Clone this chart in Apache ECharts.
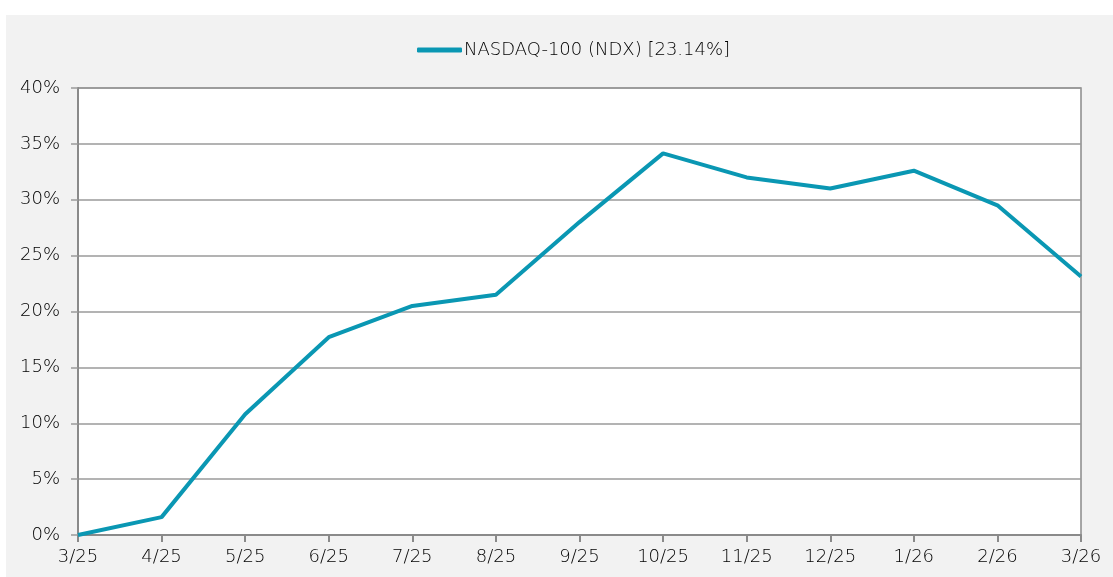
<!DOCTYPE html>
<html>
<head>
<meta charset="utf-8">
<script src="https://cdn.jsdelivr.net/npm/echarts@6/dist/echarts.min.js"></script>
<style>
html,body{margin:0;padding:0;background:#fff;}
#box{position:absolute;left:6px;top:15px;width:1107px;height:562px;background:#f2f2f2;}
#chart{width:1107px;height:562px;}
</style>
</head>
<body>
<div id="box"><div id="chart"></div></div>
<script>
const categories = ['3/25','4/25','5/25','6/25','7/25','8/25','9/25','10/25','11/25','12/25','1/26','2/26','3/26'];
const seriesName = 'NASDAQ-100 (NDX) [23.14%]';
const values = [0, 1.6, 10.8, 17.7, 20.5, 21.5, 28.0, 34.15, 32.0, 31.0, 32.6, 29.5, 23.14];

const chart = echarts.init(document.getElementById('chart'), null, {renderer:'canvas'});
const font = "'DejaVu Sans', sans-serif";
const fw = 200;
const tc = '#000';
chart.setOption({
  animation:false,
  backgroundColor:'#f2f2f2',
  textStyle:{fontFamily:font},
  legend:{
    left:406, top:21,
    data:[{name:seriesName, icon:'roundRect'}],
    itemWidth:45, itemHeight:5, itemGap:10,
    textStyle:{fontSize:18, color:tc, fontFamily:font, fontWeight:fw, padding:[0,0,0,-3]}
  },
  grid:{left:72, top:73, right:32, bottom:42, show:true, backgroundColor:'#fff', borderColor:'#8a8a8a', borderWidth:1.5},
  xAxis:{
    type:'category', data:categories, boundaryGap:false,
    axisLine:{lineStyle:{color:'#8a8a8a', width:2}},
    axisTick:{show:true, alignWithLabel:true, length:7, lineStyle:{color:'#8a8a8a', width:2}},
    axisLabel:{color:tc, fontSize:18, margin:13, fontFamily:font, fontWeight:fw, showMinLabel:true, showMaxLabel:true, interval:0},
    splitLine:{show:false}
  },
  yAxis:{
    type:'value', min:0, max:40, interval:5,
    axisLine:{show:true, lineStyle:{color:'#8a8a8a', width:2}},
    axisTick:{show:true, length:7, lineStyle:{color:'#9a9a9a', width:1.5}},
    axisLabel:{color:tc, fontSize:18, margin:18, fontFamily:font, fontWeight:fw, formatter:'{value}%'},
    splitLine:{show:true, lineStyle:{color:'#9a9a9a', width:1.5}}
  },
  series:[{
    name:seriesName, type:'line', data:values,
    symbol:'none', smooth:false,
    lineStyle:{color:'#0a97b3', width:4},
    itemStyle:{color:'#0a97b3'}
  }]
});
</script>
</body>
</html>
